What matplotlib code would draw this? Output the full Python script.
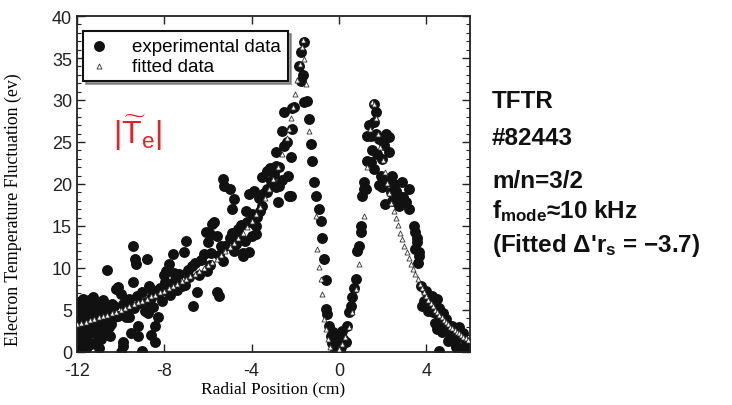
import matplotlib
matplotlib.use("Agg")
import matplotlib.pyplot as plt
from matplotlib.ticker import MultipleLocator

plt.rcParams["mathtext.default"] = "regular"

# experimental data (radial position cm, Te fluctuation eV)
exp_x = [
    # dense cluster at the far left
    -11.95, -11.9, -11.85, -11.9, -11.8, -11.7, -11.6, -11.55, -11.5, -11.45,
    -11.35, -11.3, -11.2, -11.15, -11.1, -11.0, -11.0, -10.9, -10.9, -10.8,
    -10.75, -10.7, -10.6, -10.5, -10.45, -10.4, -11.7, -11.25, -10.6, -11.6,
    -11.95, -11.8, -11.75, -11.65, -11.5, -11.4, -11.35, -11.2, -11.05, -10.95,
    -10.85, -10.65, -10.55, -11.5, -11.8,
    # band along the fit
    -10.3, -10.2, -10.1, -10.0, -10.0, -9.9, -9.9, -9.8, -9.7, -9.6,
    -9.45, -9.45, -9.35, -9.3, -9.2, -9.2, -9.1, -9.0, -8.9, -8.8,
    -8.7, -8.6, -8.5, -8.4, -8.4, -8.3, -8.3, -8.2, -8.0, -7.9,
    -7.85, -7.8, -7.7, -7.6, -7.5, -7.3, -7.2, -7.1, -7.0, -6.9,
    -6.7, -6.6, -6.5, -6.4, -6.2, -6.1, -6.0, -5.9, -5.8, -9.5, -8.6,
    -10.3, -10.1, -9.9, -9.75, -9.6, -9.4, -9.25, -9.0, -8.85, -8.75,
    -8.55, -8.1, -7.95, -7.75, -7.55, -7.4, -7.05, -6.85, -6.75, -6.3,
    -6.05, -5.85, -5.4, -5.3,
    # -6 .. -2
    -5.7, -5.6, -5.6, -5.5, -5.5, -5.3, -5.25, -5.0, -4.8, -4.9,
    -5.9, -5.2, -5.0, -4.8, -4.6, -4.4, -4.2, -4.1, -4.1, -4.0,
    -4.0, -3.9, -3.8, -3.75, -3.8, -3.6, -3.5, -3.5, -3.3, -3.3,
    -3.3, -2.9, -2.8, -2.74, -2.3, -2.2, -4.55, -4.4,
    -4.9, -4.7, -4.5, -4.3, -4.25, -3.95, -3.65, -3.45, -3.1, -3.15, -2.95,
    # rise to the left peak
    -2.9, -2.74, -2.9, -2.6, -2.5, -2.5, -2.4, -2.2, -2.15, -2.15,
    -2.05, -1.6, -2.35, -2.6,
    -1.6, -1.74, -1.83, -1.74, -1.65,
    # fall into the valley
    -1.46, -1.37, -1.28, -1.23, -1.14, -1.05, -0.91, -0.82, -0.78, -0.68,
    -0.6, -0.6, -0.55, -0.46, -0.37, -0.32, -0.14, -0.2, 0.05, -0.05,
    -0.25, 0.1, 0.2, -0.1,
    # rise to the right peak
    0.0, 0.14, 0.37, 0.32, 0.46, 0.55, 0.59, 0.7, 0.78, 0.82,
    0.91, 1.0, 1.0, 1.05, 1.14, 1.14, 1.23, 1.28, 1.28, 1.4,
    # right peak and decay
    1.6, 1.69, 1.6, 1.69, 1.46, 2.15, 2.28, 1.83, 1.45, 1.96,
    2.28, 1.92, 2.42, 1.96, 2.5, 2.88, 3.2, 2.74, 2.42, 3.06,
    3.2, 2.74, 2.15, 2.4,
    1.5, 1.75, 2.05, 1.85, 2.6, 2.95, 2.1, 1.6,
    3.5, 3.56, 3.5, 3.65, 3.56, 3.65, 3.74, 3.97, 4.25, 4.5,
    3.8, 4.1, 4.3, 4.57, 4.7, 4.5, 4.85, 5.1, 5.4, 5.6,
    5.8, 4.57, 5.35, 5.6, 5.85, 4.7, 5.0, 5.3, 4.1, 4.4,
    3.45, 3.6, 3.9, 4.2, 4.6, 4.75, 4.9, 5.2, 5.5, 5.7,
    5.9, 5.15, 5.75, 4.4,
]
exp_y = [
    0.8, 2.0, 3.2, 4.5, 5.6, 1.4, 2.6, 4.0, 5.2, 6.2,
    0.9, 3.0, 4.6, 5.8, 2.1, 3.6, 0.4, 1.5, 5.0, 6.2,
    3.9, 2.4, 4.8, 1.9, 3.3, 5.7, 6.3, 6.5, 9.8, 0.3,
    5.9, 0.5, 3.8, 5.0, 1.2, 2.2, 4.8, 1.0, 2.8, 4.4,
    3.3, 5.6, 3.0, 3.4, 2.9,
    4.2, 7.5, 7.7, 6.9, 0.0, 0.7, 1.2, 4.6, 5.3, 4.2,
    8.3, 12.6, 11.0, 10.5, 3.1, 1.9, 5.8, 0.1, 4.9, 11.0,
    7.8, 6.4, 5.3, 3.1, 1.2, 4.2, 6.9, 7.6, 9.1, 9.6,
    7.3, 10.5, 8.1, 11.7, 8.6, 9.3, 7.9, 11.9, 13.2, 9.8,
    5.5, 10.6, 7.1, 9.2, 11.7, 14.3, 13.1, 10.4, 15.2, 2.2, 2.0,
    5.4, 4.3, 5.7, 4.2, 6.3, 5.2, 6.6, 7.1, 5.9, 4.6,
    7.4, 6.1, 8.3, 6.8, 9.4, 7.4, 8.0, 8.9, 10.2, 10.9,
    9.6, 11.8, 12.6, 10.8,
    15.5, 13.8, 7.1, 6.7, 11.5, 20.6, 19.8, 19.4, 18.2, 17.0,
    14.0, 12.6, 13.5, 12.0, 14.6, 11.8, 15.5, 18.8, 11.9, 16.4,
    13.8, 19.2, 15.0, 16.1, 14.0, 16.8, 20.8, 17.4, 21.5, 19.4,
    19.0, 19.6, 17.9, 19.8, 18.6, 18.6, 13.5, 11.4,
    14.1, 12.9, 15.1, 13.2, 16.8, 15.3, 18.3, 18.9, 20.3, 21.9, 21.2,
    23.8, 22.0, 22.1, 26.3, 28.6, 24.5, 25.0, 23.2, 26.5, 29.0,
    29.2, 29.8, 21.0, 20.5,
    36.9, 35.7, 34.0, 32.3, 33.0,
    29.9, 27.7, 24.8, 22.7, 20.2, 18.6, 17.0, 15.6, 13.5, 11.1,
    8.5, 5.1, 4.5, 3.1, 1.9, 1.0, 0.4, 0.1, 0.0, 1.2,
    2.4, 0.6, 1.5, 2.0,
    1.9, 2.5, 3.1, 1.2, 4.8, 5.5, 6.5, 7.6, 8.7, 12.0,
    12.6, 14.3, 15.0, 18.6, 19.4, 20.2, 19.4, 22.7, 25.7, 27.0,
    29.5, 28.6, 27.4, 26.0, 25.7, 26.0, 25.6, 25.4, 22.6, 23.0,
    23.8, 21.0, 21.0, 19.6, 20.0, 20.2, 19.4, 18.6, 18.0, 17.9,
    17.0, 17.4, 20.2, 19.0,
    24.0, 23.6, 24.6, 19.9, 19.2, 18.4, 17.6, 21.8,
    14.3, 13.5, 12.3, 11.4, 13.1, 11.9, 7.9, 7.3, 6.7, 6.3,
    5.4, 4.9, 4.8, 4.3, 3.6, 2.7, 3.0, 2.7, 2.4, 1.9,
    1.2, 0.1, 0.6, 0.0, 0.1, 2.4, 1.3, 1.0, 6.0, 5.5,
    15.0, 10.6, 6.1, 5.6, 5.2, 4.6, 3.9, 3.1, 2.9, 2.3,
    0.9, 1.9, 0.5, 3.4,
]

# fitted data
fit_x = [
    -12.0, -11.8, -11.6, -11.4, -11.2, -11.0, -10.8, -10.6, -10.4, -10.2,
    -10.0, -9.8, -9.6, -9.4, -9.2, -9.0, -8.8, -8.6, -8.4, -8.2,
    -8.0, -7.8, -7.6, -7.4, -7.2, -7.0, -6.8, -6.6, -6.4, -6.2,
    -6.0, -5.8, -5.6, -5.4, -5.2, -5.0, -4.8, -4.6, -4.4, -4.2,
    -4.0, -3.8, -3.6, -3.4, -3.2, -3.0, -2.8, -2.6, -2.4, -2.3,
    -2.2, -2.1, -2.0, -1.9, -1.8, -1.7, -1.65,
    -1.58, -1.5, -1.36, -1.05, -1.0, -0.91, -0.82, -0.78, -0.68, -0.6,
    -0.5, -0.4,
    0.0, 0.15, 0.3, 0.45, 0.6, 0.78, 0.91, 1.14, 1.3, 1.42, 1.5,
    1.6, 1.7, 1.8, 1.9, 2.0, 2.1, 2.2, 2.3, 2.4, 2.5,
    2.6, 2.7, 2.8, 2.9, 3.0, 3.1, 3.2, 3.3, 3.4, 3.5,
    3.6, 3.7, 3.8, 3.9, 4.0, 4.1, 4.2, 4.3, 4.4, 4.5,
    4.6, 4.7, 4.8, 4.9, 5.0, 5.1, 5.2, 5.3, 5.4, 5.5,
    5.6, 5.7, 5.8, 5.9,
]
fit_y = [
    3.3, 3.4, 3.6, 3.8, 3.9, 4.1, 4.3, 4.4, 4.6, 4.8,
    5.0, 5.2, 5.4, 5.7, 5.9, 6.1, 6.3, 6.6, 6.8, 7.1,
    7.3, 7.6, 7.9, 8.1, 8.4, 8.7, 9.0, 9.3, 9.6, 10.0,
    10.3, 10.7, 11.1, 11.5, 12.0, 12.5, 13.0, 13.6, 14.2, 14.9,
    15.6, 16.4, 17.3, 18.3, 19.4, 20.6, 22.0, 23.6, 25.5, 26.6,
    27.8, 29.2, 30.7, 32.4, 34.3, 36.3, 37.2,
    34.9, 31.9, 26.3, 16.2, 12.3, 10.1, 8.7, 6.9, 3.9, 2.7,
    1.5, 0.6,
    0.3, 0.9, 1.8, 3.0, 4.8, 7.5, 10.5, 16.2, 22.0, 26.5, 29.8,
    29.5, 27.8, 26.0, 24.4, 22.9, 21.4, 20.1, 18.9, 17.7, 16.8,
    16.0, 15.1, 14.2, 13.4, 12.6, 11.9, 11.2, 10.5, 9.9, 9.3,
    8.7, 8.1, 7.6, 7.1, 6.6, 6.2, 5.8, 5.4, 5.0, 4.7,
    4.4, 4.1, 3.8, 3.5, 3.3, 3.0, 2.8, 2.6, 2.4, 2.2,
    2.0, 1.8, 1.6, 1.4,
]

x_ticks = [-12, -8, -4, 0, 4]
y_ticks = [0, 5, 10, 15, 20, 25, 30, 35, 40]

info_lines = ["TFTR", "#82443", "m/n=3/2", "f$_{mode}$\u224810 kHz",
              "(Fitted \u0394'r$_s$ = \u22123.7)"]

sans = ["Liberation Sans", "DejaVu Sans"]
serif = ["Liberation Serif", "DejaVu Serif"]

fig = plt.figure(figsize=(7.32, 4.06), dpi=100)
ax = fig.add_axes([0.105, 0.131, 0.537, 0.827])

ax.scatter(exp_x, exp_y, s=62, c="#111111", marker="o", linewidths=0,
           label="experimental data", zorder=2)
ax.scatter(fit_x, fit_y, s=13, facecolors="white", edgecolors="#333333",
           marker="^", linewidths=0.6, label="fitted data", zorder=3)

ax.set_xlim(-12, 6)
ax.set_ylim(0, 40)
ax.set_xticks(x_ticks)
ax.set_xticklabels([str(t) for t in x_ticks])
ax.set_yticks(y_ticks)
ax.yaxis.set_minor_locator(MultipleLocator(1))
ax.tick_params(axis="both", which="both", direction="in", top=True, right=True,
               labelsize=13, colors="#222222")
ax.tick_params(axis="x", pad=7)
ax.tick_params(which="major", length=6, width=1)
ax.tick_params(which="minor", length=3, width=0.8)
for lab in ax.get_xticklabels() + ax.get_yticklabels():
    lab.set_family(sans)
for sp in ax.spines.values():
    sp.set_linewidth(1.3)
    sp.set_color("#222222")

ax.set_xlabel("Radial Position (cm)", family=serif, fontsize=12.5, labelpad=1)
ax.set_ylabel("Electron Temperature Fluctuation (ev)", family=serif, fontsize=12.8)
ax.yaxis.set_label_coords(-0.14, 0.425)

leg = ax.legend(loc="upper left", bbox_to_anchor=(0.015, 0.955), borderaxespad=0,
                frameon=True, fancybox=False, shadow=True, handlelength=1.0,
                handletextpad=1.3, borderpad=0.35, labelspacing=0.15,
                markerscale=1.0, prop={"family": sans, "size": 13.5})
leg.get_frame().set_edgecolor("#111111")
leg.get_frame().set_linewidth(1.5)

ax.text(0.155, 0.655, r"$|\widetilde{T}_{e}|$", transform=ax.transAxes,
        color="#ee1c24", fontsize=23, family=sans, ha="center", va="center")

baselines = [108, 145, 188, 218, 252]
for txt, b in zip(info_lines, baselines):
    fig.text(492 / 732, 1 - b / 406, txt, family=sans, fontweight="bold",
             fontsize=17.5, ha="left", va="baseline", color="#111111")

fig.savefig("out.png", dpi=100, facecolor="white")
